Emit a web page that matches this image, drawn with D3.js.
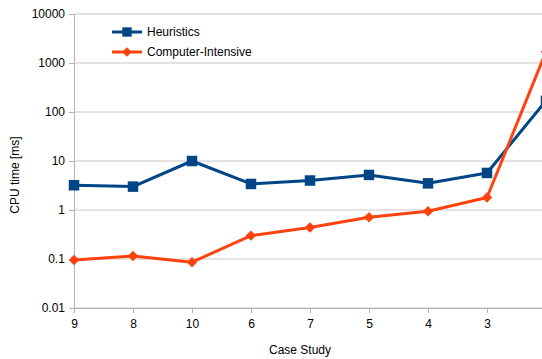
<!DOCTYPE html>
<html>
<head>
<meta charset="utf-8">
<script src="https://cdn.jsdelivr.net/npm/d3@7"></script>
<style>
  body { margin: 0; background: #fff; }
  text { font-family: "Liberation Sans", Arial, sans-serif; fill: #000; }
</style>
</head>
<body>
<script>
// data
const cases = ["9", "8", "10", "6", "7", "5", "4", "3", "2"]
const heuristics = [3.2, 3.0, 10, 3.4, 4.0, 5.2, 3.5, 5.7, 170]
const computerIntensive = [0.095, 0.115, 0.086, 0.30, 0.44, 0.71, 0.94, 1.8, 1700]
const yTicks = [0.01, 0.1, 1, 10, 100, 1000, 10000]

let width = 542
let height = 359

let svg = d3.select("body").append("svg")
  .attr("width", width)
  .attr("height", height)

let x = d3.scalePoint()
  .domain(cases)
  .range([74, 546])

let y = d3.scaleLog()
  .domain([0.01, 10000])
  .range([308, 14])

// gridlines
svg.append("g")
  .selectAll("line")
  .data(yTicks)
  .enter()
  .append("line")
    .attr("x1", 74)
    .attr("x2", 560)
    .attr("y1", d => y(d))
    .attr("y2", d => y(d))
    .attr("stroke", "#c8c8c8")
    .attr("stroke-width", 1)

// y axis
let yAxis = svg.append("g")
  .attr("transform", "translate(74,0)")
  .call(d3.axisLeft(y).tickValues(yTicks).tickFormat(d => String(d)).tickSize(5).tickPadding(4))
yAxis.select(".domain").attr("stroke", "#b3b3b3")
yAxis.selectAll(".tick line").attr("stroke", "#b3b3b3")
yAxis.selectAll("text").attr("font-size", 12).style("fill", "#000")

// x axis (last category sits on the clipped right edge, no label shown)
let xAxis = svg.append("g")
  .attr("transform", "translate(0,308)")
  .call(d3.axisBottom(x).tickSize(5).tickPadding(6).tickSizeOuter(0)
    .tickFormat(d => d === cases[cases.length - 1] ? "" : d))
xAxis.select(".domain").attr("stroke", "#b3b3b3")
xAxis.selectAll(".tick line").attr("stroke", "#b3b3b3")
xAxis.selectAll("text").attr("font-size", 12).style("fill", "#000")

// axis titles
svg.append("text")
  .attr("x", 300)
  .attr("y", 354)
  .attr("text-anchor", "middle")
  .attr("font-size", 12)
  .text("Case Study")

svg.append("text")
  .attr("transform", "translate(19,175) rotate(-90)")
  .attr("text-anchor", "middle")
  .attr("font-size", 12)
  .text("CPU time [ms]")

let line = d3.line()
  .x((d, i) => x(cases[i]))
  .y(d => y(d))

let series = [
  { name: "Heuristics", values: heuristics, color: "#004586", shape: d3.symbolSquare, size: 110, rot: 0 },
  { name: "Computer-Intensive", values: computerIntensive, color: "#ff420e", shape: d3.symbolSquare, size: 55, rot: 45 }
]

series.forEach(s => {
  svg.append("path")
    .datum(s.values)
    .attr("fill", "none")
    .attr("stroke", s.color)
    .attr("stroke-width", 3)
    .attr("stroke-linejoin", "round")
    .attr("d", line)

  svg.append("g")
    .selectAll("path")
    .data(s.values)
    .enter()
    .append("path")
      .attr("d", d3.symbol().type(s.shape).size(s.size))
      .attr("transform", (d, i) => `translate(${x(cases[i])},${y(d)}) rotate(${s.rot})`)
      .attr("fill", s.color)
})

// legend
let legend = svg.append("g")
  .selectAll("g")
  .data(series)
  .enter()
  .append("g")
    .attr("transform", (d, i) => `translate(112,${32 + i * 20})`)

legend.append("line")
  .attr("x1", 0)
  .attr("x2", 30)
  .attr("stroke", d => d.color)
  .attr("stroke-width", 3)

legend.append("path")
  .attr("d", d => d3.symbol().type(d.shape).size(d.size * 0.8)())
  .attr("transform", d => `translate(15,0) rotate(${d.rot})`)
  .attr("fill", d => d.color)

legend.append("text")
  .attr("x", 35)
  .attr("y", 4)
  .attr("font-size", 12)
  .text(d => d.name)
</script>
</body>
</html>
